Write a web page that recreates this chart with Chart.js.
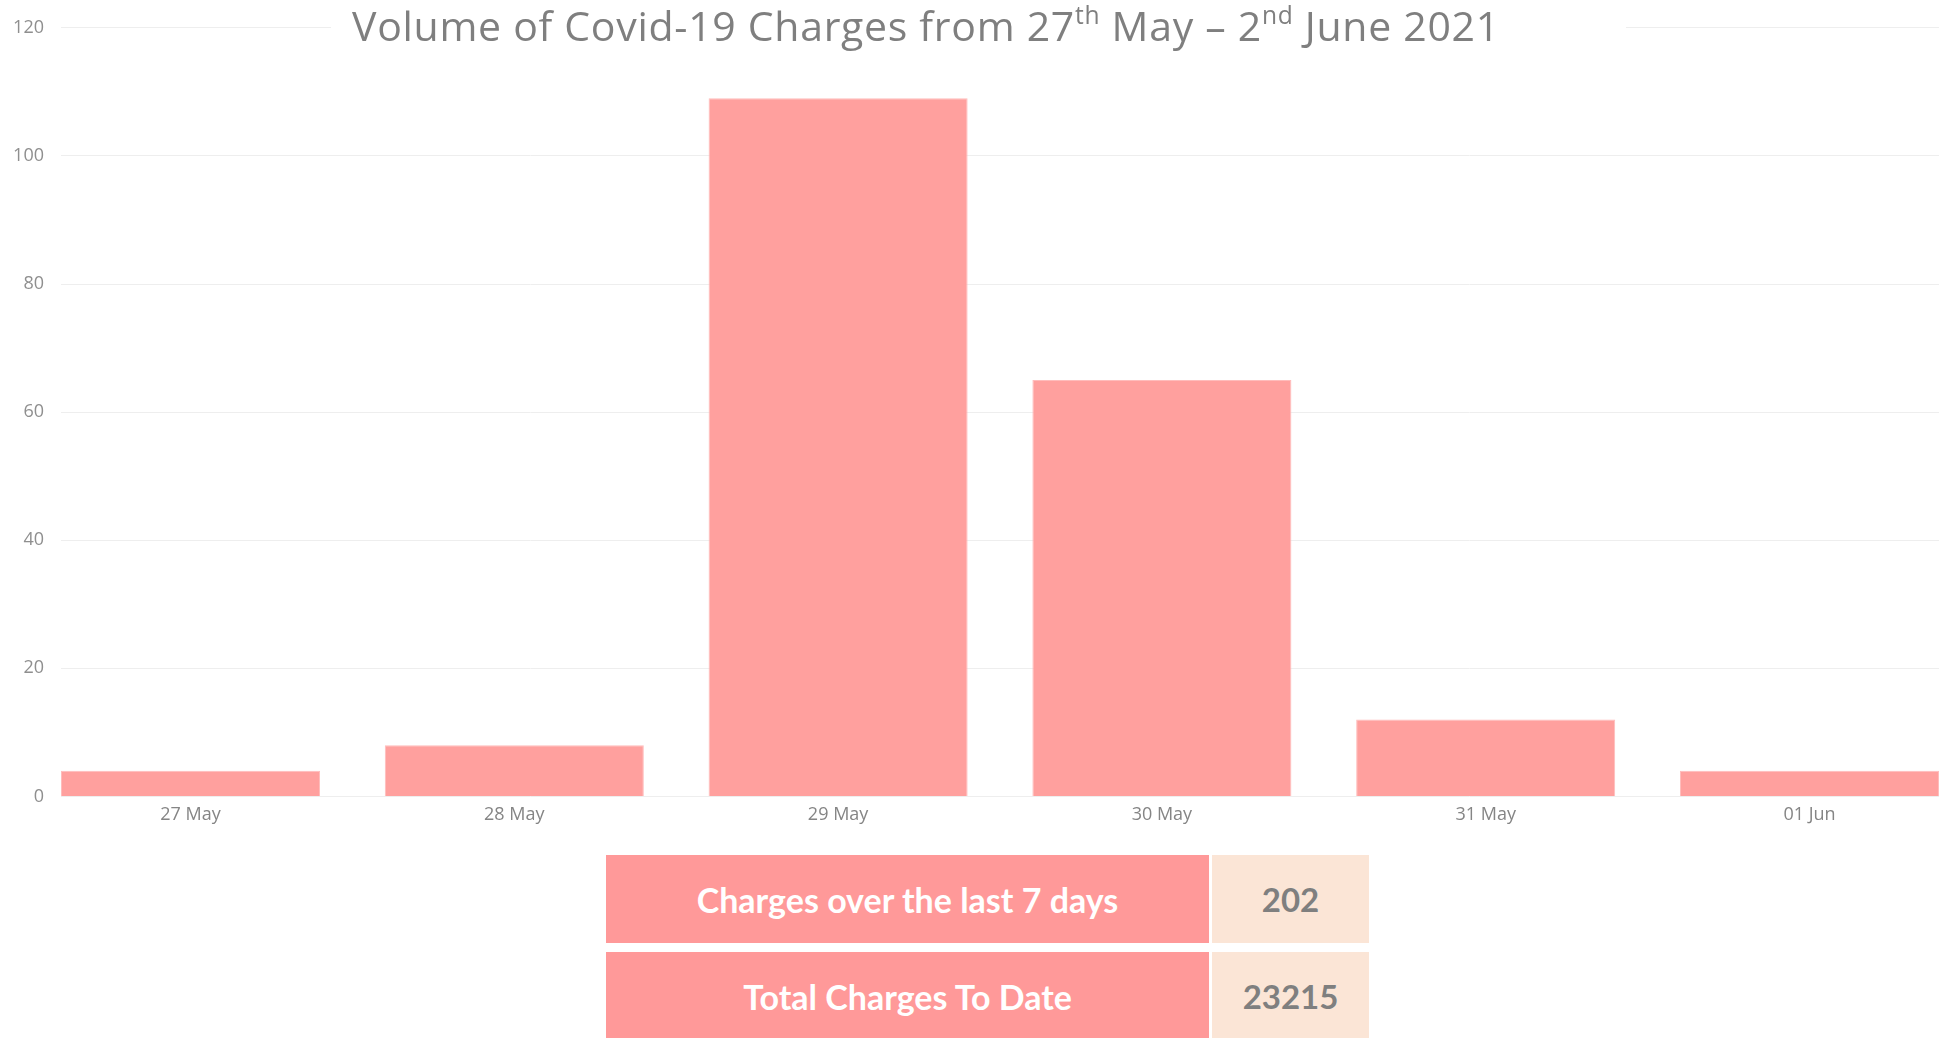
<!DOCTYPE html>
<html>
<head>
<meta charset="utf-8">
<title>Volume of Covid-19 Charges</title>
<script src="https://cdn.jsdelivr.net/npm/chart.js@4/dist/chart.umd.min.js"></script>
<style>
    html, body {
        margin: 0;
        padding: 0;
        width: 1939px;
        height: 1038px;
        overflow: hidden;
        background: #ffffff;
        font-family: 'Lato', 'Open Sans', sans-serif;
    }
    .chart-wrap {
        position: absolute;
        left: 0;
        top: 0;
        width: 1939px;
        height: 840px;
    }
    .chart-title {
        position: absolute;
        left: 331px;
        top: 0;
        width: 1295px;
        height: 50px;
        box-sizing: border-box;
        padding-left: 21px;
        background: #ffffff;
        color: #7f7f7f;
        font-family: 'Open Sans', sans-serif;
        font-weight: 400;
        font-size: 41px;
        line-height: 50px;
        white-space: nowrap;
        letter-spacing: 0.7px;
    }
    .chart-title sup {
        font-size: 0.6em;
        line-height: 0;
        vertical-align: 0.7em;
    }
    .summary {
        position: absolute;
        left: 606px;
        top: 855px;
    }
    .summary-row {
        display: flex;
        height: 88px;
        margin-bottom: 9px;
    }
    .summary-label {
        width: 603px;
        background: #ff9999;
        color: #ffffff;
        font-weight: 700;
        font-size: 34px;
        display: flex;
        align-items: center;
        justify-content: center;
    }
    .summary-value {
        width: 157px;
        margin-left: 3px;
        background: #fbe5d6;
        color: #7f7f7f;
        font-weight: 700;
        font-size: 33px;
        display: flex;
        align-items: center;
        justify-content: center;
    }
</style>
</head>
<body>

<div class="chart-wrap">
    <canvas id="chargesChart" width="1939" height="840"></canvas>
</div>

<div class="chart-title">Volume of Covid-19 Charges from 27<sup>th</sup> May – 2<sup>nd</sup> June 2021</div>

<div class="summary" id="summaryTable"></div>

<script>
// Daily Covid-19 charges, 27 May - 01 Jun
const categories = ['27 May', '28 May', '29 May', '30 May', '31 May', '01 Jun'];
const chargeCounts = [4, 8, 109, 65, 12, 4];

// y axis ticks
const yMin = 0;
const yMax = 120;
const yStep = 20;

// summary table under the chart
const summaryLabels = ['Charges over the last 7 days', 'Total Charges To Date'];
const summaryValues = [202, 23215];

function displaySummary() {
    const table = document.getElementById('summaryTable');
    let html = '';

    summaryLabels.forEach((label, i) => {
        html += `
            <div class="summary-row">
                <div class="summary-label">${label}</div>
                <div class="summary-value">${summaryValues[i]}</div>
            </div>
        `;
    });

    table.innerHTML = html;
}

function createChart() {
    const ctx = document.getElementById('chargesChart');

    // bars sit on a linear x scale so the first and last bars touch the plot edges
    const points = chargeCounts.map((v, i) => ({ x: i, y: v }));

    new Chart(ctx, {
        type: 'bar',
        data: {
            datasets: [{
                label: 'Charges',
                data: points,
                backgroundColor: '#ffa09e',
                borderColor: '#ffbcbb',
                borderWidth: 1,
                barPercentage: 0.8,
                categoryPercentage: 1
            }]
        },
        options: {
            responsive: false,
            animation: false,
            layout: {
                padding: { left: 0, top: 15, right: 0, bottom: 14 }
            },
            plugins: {
                legend: { display: false },
                title: { display: false },
                tooltip: { enabled: false }
            },
            scales: {
                x: {
                    type: 'linear',
                    bounds: 'data',
                    offset: false,
                    min: -0.4,
                    max: categories.length - 0.6,
                    grid: { display: false },
                    border: { display: false },
                    // one tick per day, labelled with the category name
                    afterBuildTicks: function(axis) {
                        axis.ticks = categories.map((c, i) => ({ value: i }));
                    },
                    ticks: {
                        autoSkip: false,
                        maxRotation: 0,
                        padding: 0,
                        color: '#858585',
                        font: { family: 'Open Sans', size: 18 },
                        callback: function(value) {
                            return categories[value] || '';
                        }
                    }
                },
                y: {
                    min: yMin,
                    max: yMax,
                    grid: {
                        color: '#eeeeee',
                        drawTicks: false
                    },
                    border: { display: false },
                    afterFit: function(axis) {
                        axis.width = 61;
                    },
                    ticks: {
                        stepSize: yStep,
                        padding: 17,
                        color: '#8f8f8f',
                        font: { family: 'Open Sans', size: 18 }
                    }
                }
            }
        }
    });
}

displaySummary();
createChart();
</script>
</body>
</html>
